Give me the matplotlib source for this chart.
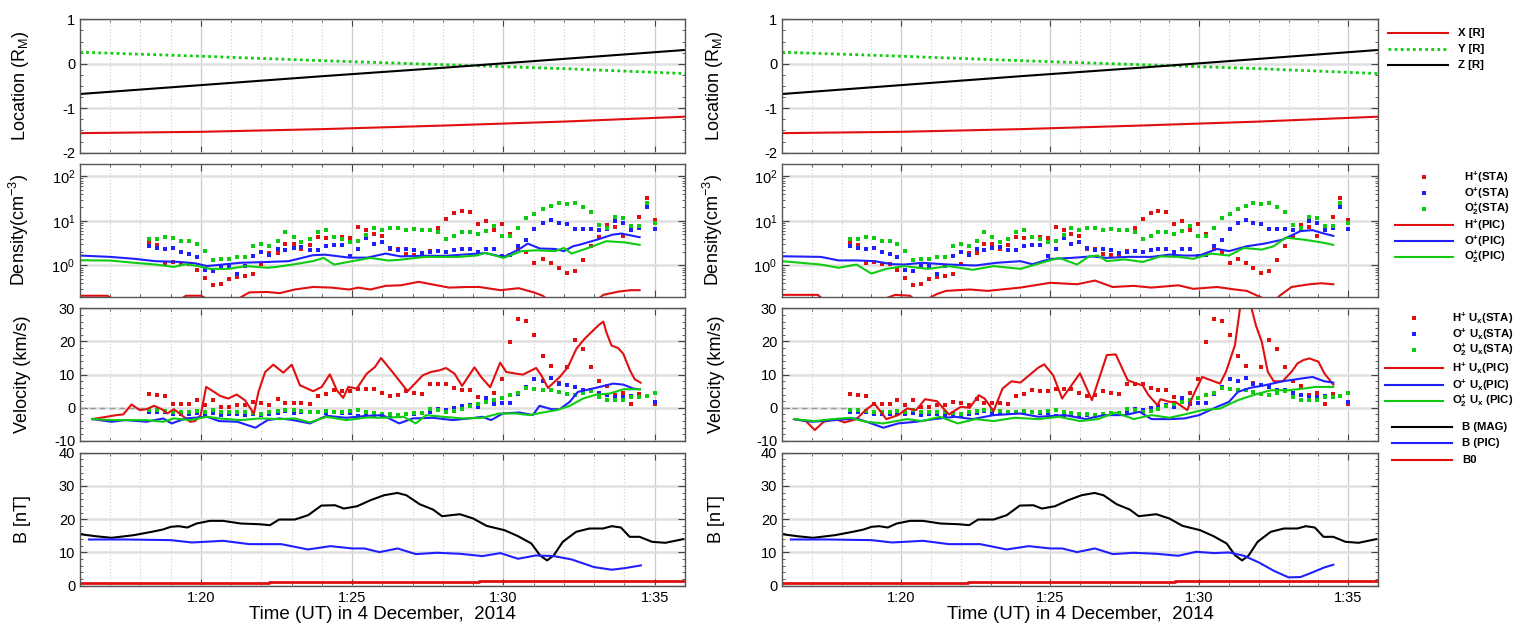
import numpy as np
import matplotlib
matplotlib.use("Agg")
import matplotlib.pyplot as plt
from matplotlib.ticker import MultipleLocator, FixedLocator, NullFormatter, LogLocator
from matplotlib.lines import Line2D

plt.rcParams['font.family'] = ['Liberation Sans', 'DejaVu Sans']
plt.rcParams['axes.unicode_minus'] = False
plt.rcParams['mathtext.fontset'] = 'custom'
plt.rcParams['mathtext.rm'] = 'Liberation Sans'
plt.rcParams['mathtext.it'] = 'Liberation Sans:italic'
plt.rcParams['mathtext.bf'] = 'Liberation Sans:bold'

RED = '#e01010'
BLUE = '#2020ff'
GREEN = '#10cc10'

# time in minutes after 01:00 UT
# ---- spacecraft location (same in both columns)
loc_t = [16.0, 20.0, 24.0, 28.0, 32.0, 36.0]
loc_x = [-1.56, -1.53, -1.47, -1.39, -1.30, -1.19]
loc_y = [0.26, 0.17, 0.07, -0.02, -0.11, -0.22]
loc_z = [-0.68, -0.48, -0.28, -0.09, 0.11, 0.31]

# ---- STATIC observations (same in both columns)
sta_t = [18.28, 18.55, 18.81, 19.08, 19.34, 19.61, 19.87, 20.14, 20.40, 20.67,
         20.94, 21.20, 21.47, 21.73, 22.00, 22.26, 22.53, 22.79, 23.06, 23.32,
         23.59, 23.86, 24.12, 24.39, 24.65, 24.92, 25.18, 25.45, 25.71, 25.98,
         26.25, 26.51, 26.78, 27.04, 27.31, 27.57, 27.84, 28.10, 28.37, 28.63,
         28.90, 29.17, 29.43, 29.70, 29.96, 30.23, 30.49, 30.76, 31.02, 31.29,
         31.56, 31.82, 32.09, 32.35, 32.62, 32.88, 33.15, 33.41, 33.68, 33.94,
         34.21, 34.48, 34.74, 35.01]
sta_nH = [3.2, 2.9, 1.15, 1.2, 1.1, 1.09, 0.81, 0.52, 0.37, 0.39,
          0.51, 0.54, 0.59, 0.66, 1.1, 1.9, 1.95, 3.0, 3.0, 2.35,
          2.9, 4.3, 4.1, 4.3, 4.3, 4.1, 7.4, 6.4, 5.1, 4.5,
          2.35, 2.35, 1.8, 1.75, 1.75, 2.15, 6.9, 10.9, 15.3, 17.0,
          16.1, 8.4, 9.7, 6.1, 8.6, 5.1, 2.35, 2.0, 1.15, 1.43,
          1.15, 0.89, 0.69, 0.75, 1.32, 2.7, 4.3, 8.0, 7.2, 4.5,
          7.5, 11.9, 32.0, 10.4]
sta_nO = [2.8, 2.5, 2.35, 2.5, 2.0, 1.85, 1.58, 0.79, 0.77, 0.97,
          0.97, 0.63, 0.97, 1.64, 2.0, 1.75, 2.35, 2.27, 2.5, 2.6,
          2.2, 2.2, 2.7, 2.9, 2.9, 1.6, 2.35, 4.2, 3.0, 3.3,
          2.5, 2.2, 2.4, 2.2, 1.9, 2.0, 2.1, 2.0, 2.2, 2.35,
          2.35, 2.0, 2.4, 2.35, 1.6, 1.75, 2.7, 3.7, 6.6, 8.9,
          10.5, 8.9, 8.6, 6.5, 6.5, 6.5, 6.3, 6.5, 9.7, 8.9,
          6.1, 6.9, 20.0, 6.5]
sta_nO2 = [3.9, 3.9, 4.3, 4.2, 3.5, 3.6, 3.1, 2.1, 1.32, 1.38,
           1.38, 1.53, 1.53, 2.7, 3.1, 2.7, 3.5, 5.5, 4.3, 3.4,
           3.9, 5.6, 6.1, 4.3, 3.9, 3.4, 3.5, 4.8, 6.8, 6.3,
           7.0, 7.0, 6.3, 6.6, 6.1, 6.1, 5.5, 3.9, 4.5, 5.5,
           5.5, 5.1, 6.0, 7.5, 4.5, 4.5, 6.8, 11.3, 14.3, 18.8,
           21.5, 24.7, 23.4, 25.5, 20.8, 15.6, 7.9, 6.9, 12.5, 11.3,
           7.7, 7.5, 25.5, 8.9]
sta_uH = [4.3, 3.8, 3.5, 1.2, 1.2, 1.2, 2.5, 1.0, 2.3, 0.3,
          0.1, 0.8, 0.8, 1.8, 1.6, 0.8, 2.6, 1.6, 1.6, 1.6,
          1.3, 3.5, 4.3, 5.3, 5.0, 5.0, 5.8, 5.8, 5.8, 4.5,
          3.5, 4.0, 5.0, 4.6, 4.3, 7.1, 7.1, 7.3, 6.0, 5.5,
          5.5, 3.2, 2.7, 4.6, 8.6, 19.8, 26.8, 26.3, 22.0, 15.6,
          12.6, 7.5, 12.3, 20.5, 17.8, 12.3, 8.0, 6.6, 4.0, 4.6,
          1.1, 4.1, 3.5, 1.1]
sta_uO = [-1.4, -1.4, -1.4, -2.0, -2.0, -2.0, -1.6, -1.8, -1.7, -2.2,
          -2.0, -1.8, -2.3, -2.0, -2.2, -2.0, -1.5, -1.0, -1.5, -1.2,
          -1.3, -1.3, -1.7, -1.4, -1.5, -1.6, -2.4, -2.3, -2.2, -2.5,
          -2.3, -2.2, -2.0, -1.8, -1.7, -1.2, -0.4, -0.8, -0.2, 0.5,
          0.8, 0.3, 3.0, 1.1, 1.5, 1.5, 4.3, 6.3, 8.6, 8.1,
          9.0, 7.3, 6.8, 6.3, 5.5, 5.3, 4.6, 3.8, 3.3, 3.2,
          3.6, 3.3, 3.5, 1.8]
sta_uO2 = [-0.8, -0.8, -1.0, -1.2, -1.4, -1.2, -1.0, -1.2, -0.8, -1.2,
           -1.4, -1.2, -1.4, -1.6, -1.8, -1.4, -1.0, -0.8, -0.8, -1.0,
           -1.2, -1.2, -1.0, -1.2, -1.2, -1.0, -0.8, -1.4, -1.7, -2.0,
           -2.0, -2.2, -2.0, -1.5, -1.7, -0.5, -0.7, -1.2, -1.0, -0.4,
           0.6, 1.3, 1.8, 2.3, 3.0, 3.8, 4.6, 6.0, 5.8, 5.3,
           5.3, 4.8, 4.3, 4.0, 4.6, 5.0, 3.3, 2.3, 2.3, 2.5,
           3.3, 3.3, 3.6, 4.6]

# ---- PIC model, left column
nH_l_t = [16.0, 16.9, 17.3, 18.5, 19.3, 19.5, 20.0, 20.4, 21.1, 21.6, 22.2, 22.6, 23.1,
          23.7, 24.3, 24.9, 25.2, 25.6, 26.1, 26.6, 27.2, 27.8, 28.2, 28.8, 29.2, 29.9,
          30.5, 31.0, 31.3, 31.6, 32.5, 33.0, 33.3, 33.8, 34.2, 34.5]
nH_l = [0.21, 0.21, 0.15, 0.13, 0.17, 0.21, 0.21, 0.15, 0.16, 0.25, 0.255, 0.24, 0.29,
        0.33, 0.32, 0.29, 0.32, 0.29, 0.35, 0.36, 0.43, 0.36, 0.32, 0.33, 0.33, 0.28,
        0.31, 0.25, 0.21, 0.14, 0.11, 0.15, 0.22, 0.26, 0.28, 0.28]
nO_l_t = [16.0, 17.0, 17.8, 18.5, 19.3, 19.8, 20.2, 20.7, 21.3, 22.2, 22.9, 23.7, 24.1,
          24.9, 25.5, 26.1, 26.6, 27.4, 28.1, 28.9, 29.4, 30.0, 30.5, 30.8, 31.2, 31.7,
          32.0, 32.3, 32.5, 33.1, 33.6, 33.9, 34.5]
nO_l = [1.67, 1.56, 1.41, 1.25, 1.2, 1.12, 0.97, 1.05, 1.15, 1.2, 1.25, 1.7, 1.75,
        1.5, 1.5, 1.85, 1.6, 1.65, 1.65, 1.8, 1.9, 1.55, 2.27, 3.1, 2.4, 2.35,
        2.1, 2.7, 2.9, 3.8, 4.9, 5.2, 4.3]
nO2_l_t = [16.0, 17.0, 17.8, 18.5, 19.1, 19.5, 19.9, 20.3, 20.9, 21.5, 22.2, 22.5, 23.1,
           23.7, 24.05, 24.4, 25.0, 25.6, 26.2, 26.6, 27.4, 27.9, 28.5, 29.1, 29.4, 30.0,
           30.6, 31.1, 31.7, 32.0, 32.25, 32.8, 33.4, 34.0, 34.5]
nO2_l = [1.31, 1.29, 1.15, 1.05, 0.93, 1.07, 0.97, 0.84, 0.84, 0.97, 0.89, 0.93, 1.07,
         1.25, 1.48, 1.05, 1.25, 1.48, 1.29, 1.35, 1.56, 1.56, 1.56, 1.67, 1.91, 1.48,
         2.1, 2.19, 2.1, 2.47, 1.85, 2.47, 3.5, 3.3, 2.9]

uH_l_t = [16.4, 16.88, 17.2, 17.43, 17.7, 17.98, 18.2, 18.45, 18.7, 18.89, 19.1, 19.3,
          19.64, 19.8, 19.99, 20.17, 20.4, 20.63, 20.9, 21.18, 21.45, 21.75, 21.9, 22.12,
          22.39, 22.72, 23.0, 23.27, 23.71, 23.99, 24.26, 24.49, 24.7, 24.87, 25.15, 25.48,
          25.75, 25.95, 26.33, 26.83, 27.33, 27.6, 27.88, 28.1, 28.38, 28.63, 29.04, 29.26,
          29.56, 29.89, 30.09, 30.42, 30.64, 31.08, 31.25, 31.47, 31.86, 32.13, 32.41,
          32.68, 32.96, 33.13, 33.3, 33.4, 33.57, 33.79, 33.96, 34.18, 34.34, 34.53]
uH_l = [-3.4, -2.7, -2.2, -2.0, 1.0, -0.7, -0.4, 0.6, -0.4, -1.7, -0.4, -1.8,
        -4.2, -4.0, -2.2, 6.3, 5.0, 3.6, 2.8, 4.0, 2.3, -1.7, 4.8, 10.8,
        13.0, 10.6, 13.0, 6.8, 5.0, 6.3, 10.1, 5.3, 3.0, 6.3, 5.8, 10.3,
        12.3, 15.0, 10.8, 5.0, 9.8, 10.8, 11.3, 12.0, 10.3, 6.6, 12.2, 9.3,
        6.2, 13.6, 10.8, 10.3, 10.0, 12.0, 9.8, 6.0, 9.3, 12.3, 17.8,
        20.8, 23.3, 24.8, 26.0, 22.8, 18.8, 18.0, 16.3, 11.3, 8.6, 7.6]
uO_l_t = [16.4, 17.05, 17.5, 18.2, 18.75, 19.03, 19.5, 20.2, 20.6, 21.2, 21.8, 22.2,
          22.6, 23.05, 23.6, 24.15, 24.8, 25.5, 26.0, 26.55, 27.0, 27.66, 28.32, 28.87,
          29.3, 29.59, 29.98, 30.53, 30.97, 31.19, 31.58, 31.86, 32.19, 32.46, 32.85,
          33.18, 33.62, 33.96, 34.29, 34.51]
uO_l = [-3.4, -4.2, -3.7, -4.2, -3.2, -4.7, -3.2, -2.7, -4.0, -4.2, -6.0, -3.7,
        -3.2, -3.7, -4.7, -2.4, -3.0, -2.4, -2.2, -4.7, -3.2, -3.0, -3.7, -3.2,
        -2.7, -3.7, -1.7, -1.4, -2.2, 0.6, -0.4, -0.4, 1.8, 4.8, 5.6,
        6.3, 7.3, 7.0, 5.8, 5.6]
uO2_l_t = [16.4, 17.1, 18.2, 18.75, 19.1, 19.64, 20.2, 20.6, 21.3, 21.95, 22.6, 23.1,
           23.6, 24.15, 24.8, 25.5, 26.0, 26.7, 27.1, 27.44, 28.0, 28.65, 29.3, 29.87,
           30.42, 30.86, 31.3, 31.75, 32.19, 32.63, 33.07, 33.51, 33.96, 34.51]
uO2_l = [-3.4, -3.7, -3.7, -4.2, -3.2, -3.7, -2.7, -3.2, -3.7, -3.2, -3.4, -3.2,
         -4.4, -2.7, -3.7, -2.9, -3.0, -2.7, -4.7, -2.2, -2.7, -3.2, -3.0, -1.7,
         -1.7, -2.2, -1.4, -0.7, 0.6, 2.8, 4.0, 4.3, 5.6, 5.6]

# ---- PIC model, right column
nH_r_t = [16.0, 17.2, 17.5, 19.0, 19.8, 20.3, 20.6, 21.2, 21.5, 22.3, 22.9, 24.0, 25.0,
          25.9, 26.5, 27.1, 27.8, 28.4, 29.3, 29.8, 30.6, 31.2, 31.6, 32.1, 32.4, 32.7,
          33.1, 33.7, 34.1, 34.5]
nH_r = [0.22, 0.22, 0.15, 0.14, 0.22, 0.21, 0.14, 0.23, 0.27, 0.29, 0.27, 0.32, 0.41,
        0.38, 0.46, 0.33, 0.35, 0.32, 0.36, 0.30, 0.33, 0.29, 0.27, 0.19, 0.13, 0.21,
        0.33, 0.38, 0.40, 0.38]
nO_r_t = [16.0, 17.3, 17.9, 18.5, 19.1, 19.7, 20.1, 20.7, 21.6, 22.5, 23.2, 24.0, 24.4,
          25.0, 25.7, 26.4, 26.9, 27.6, 28.4, 29.0, 29.5, 30.0, 30.6, 31.0, 31.6, 32.2,
          32.8, 33.4, 33.8, 34.1, 34.5]
nO_r = [1.61, 1.56, 1.3, 1.3, 1.25, 1.07, 1.05, 1.15, 1.05, 1.0, 1.15, 1.25, 1.07,
        1.4, 1.48, 1.6, 1.48, 1.56, 1.56, 1.75, 1.67, 1.67, 2.35, 2.1, 2.7, 3.1,
        3.8, 5.9, 6.2, 5.4, 4.6]
nO2_r_t = [16.0, 17.3, 17.9, 18.5, 19.0, 19.5, 20.1, 20.9, 21.6, 22.4, 23.1, 24.0, 24.9,
           25.3, 25.9, 26.3, 26.6, 26.9, 27.5, 28.1, 28.7, 29.3, 29.8, 30.4, 31.0, 31.5,
           32.1, 32.5, 32.9, 33.5, 34.1, 34.5]
nO2_r = [1.25, 1.05, 0.89, 1.05, 0.66, 0.84, 0.97, 0.84, 0.97, 0.80, 0.97, 0.84, 1.25,
         1.48, 1.05, 1.6, 1.67, 1.25, 1.37, 1.2, 1.6, 1.56, 1.41, 1.85, 1.67, 2.47,
         2.27, 2.7, 4.2, 3.8, 3.3, 2.9]

uH_r_t = [16.4, 16.8, 17.1, 17.4, 17.8, 18.1, 18.5, 18.8, 19.1, 19.5, 19.9, 20.2, 20.5,
          20.8, 21.2, 21.6, 22.0, 22.3, 22.6, 22.8, 23.1, 23.4, 23.7, 24.0, 24.6, 24.8,
          25.1, 25.4, 26.0, 26.4, 26.9, 27.2, 27.6, 27.9, 28.1, 28.3, 28.6, 28.7, 29.0,
          29.2, 29.6, 29.8, 30.1, 30.4, 30.7, 30.9, 31.2, 31.4, 31.7, 31.9, 32.1, 32.3,
          32.5, 32.8, 33.1, 33.3, 33.5, 33.7, 34.0, 34.2, 34.5]
uH_r = [-3.4, -4.0, -6.7, -4.2, -3.4, -4.4, -3.4, -0.7, 1.3, -3.4, -2.2, -0.2, -0.7,
        2.6, 2.0, -2.0, 0.3, 0.0, 3.8, 2.8, -1.0, 5.8, 8.0, 7.6, 12.1, 13.1,
        9.8, 2.8, 10.4, 2.3, 15.9, 16.1, 8.3, 7.3, 6.8, 3.8, 0.8, 2.6, 1.8,
        1.8, -0.7, 3.8, 9.3, 8.3, 7.3, 10.9, 18.9, 32.0, 32.0, 24.9, 19.9, 10.9,
        8.0, 8.0, 10.9, 13.4, 14.4, 14.9, 13.9, 10.4, 7.0]
uO_r_t = [16.4, 17.0, 17.8, 18.5, 19.0, 19.4, 19.9, 20.5, 21.1, 21.8, 22.4, 23.1, 24.0,
          24.6, 25.5, 26.2, 26.8, 27.5, 28.0, 28.4, 29.0, 29.5, 30.0, 30.6, 31.0, 31.3,
          31.7, 32.2, 32.8, 33.4, 33.8, 34.2, 34.5]
uO_r = [-3.4, -4.2, -3.7, -3.2, -4.7, -6.0, -4.7, -4.2, -3.4, -2.7, -3.4, -2.2, -1.7,
        -2.7, -2.2, -3.4, -2.2, -2.2, -1.2, -3.4, -3.4, -3.2, -2.2, 0.3, 1.8, 4.8,
        6.0, 6.8, 8.0, 8.8, 9.3, 8.0, 7.6]
uO2_r_t = [16.4, 17.1, 17.7, 18.3, 18.8, 19.4, 20.2, 20.7, 21.3, 21.9, 22.5, 23.1, 23.8,
           24.6, 25.3, 26.0, 26.6, 27.2, 27.8, 28.4, 29.0, 29.5, 30.1, 30.7, 31.3, 31.8,
           32.4, 33.0, 33.5, 33.9, 34.5]
uO2_r = [-3.4, -4.0, -3.4, -3.0, -4.2, -4.7, -3.4, -4.0, -2.7, -4.7, -3.4, -4.0, -3.0,
         -3.4, -2.7, -4.0, -3.4, -1.4, -3.4, -2.2, -3.0, -2.0, -0.7, -0.2, 2.3, 3.8,
         5.3, 5.3, 5.8, 6.3, 6.3]

# ---- magnetic field
bmag_t = [16.0, 16.5, 17.04, 17.78, 18.37, 18.74, 19.0, 19.26, 19.55, 19.85, 20.29, 20.73,
          21.32, 21.91, 22.28, 22.58, 23.1, 23.54, 23.98, 24.43, 24.72, 25.16, 25.6, 26.05,
          26.49, 26.79, 27.23, 27.67, 27.97, 28.56, 29.0, 29.44, 30.03, 30.48, 30.92, 31.21,
          31.44, 31.66, 31.96, 32.4, 32.84, 33.29, 33.58, 33.88, 34.17, 34.5, 34.91, 35.35,
          35.94]
bmag = [15.5, 14.9, 14.4, 15.2, 16.2, 16.9, 17.7, 17.9, 17.5, 18.7, 19.5, 19.5,
        18.7, 18.5, 18.2, 19.9, 19.9, 21.2, 24.1, 24.2, 23.2, 23.9, 25.7, 27.2,
        27.9, 27.2, 24.5, 22.9, 20.9, 21.5, 20.2, 18.0, 16.7, 14.9, 12.7, 9.1,
        7.6, 9.1, 13.2, 16.2, 17.2, 17.2, 17.9, 17.5, 14.7, 14.7, 13.2, 12.9,
        14.0]
bpic_l_t = [16.3, 17.5, 19.0, 19.7, 20.73, 21.6, 22.65, 23.54, 24.28, 25.0, 25.4, 25.9,
            26.5, 27.1, 27.8, 28.56, 29.3, 29.9, 30.48, 31.07, 31.66, 32.25, 32.99, 33.58,
            34.02, 34.54]
bpic_l = [13.9, 13.9, 13.7, 13.0, 13.5, 12.5, 12.5, 10.9, 11.9, 11.2, 11.2, 10.1,
          11.2, 9.5, 9.9, 9.6, 8.9, 9.8, 8.1, 9.1, 8.9, 7.9, 5.6, 4.8,
          5.3, 6.1]
bpic_r_t = [16.3, 17.5, 19.0, 19.7, 20.73, 21.6, 22.65, 23.54, 24.28, 25.0, 25.4, 25.9,
            26.5, 27.1, 27.8, 28.56, 29.3, 29.9, 30.5, 31.0, 31.5, 32.0, 32.5, 33.0,
            33.4, 33.8, 34.2, 34.5]
bpic_r = [13.9, 13.9, 13.7, 13.0, 13.5, 12.5, 12.5, 10.9, 11.9, 11.2, 11.2, 10.1,
          11.2, 9.5, 9.9, 9.6, 9.0, 10.2, 9.8, 10.0, 9.0, 7.0, 4.5, 2.5,
          2.6, 4.0, 5.5, 6.3]
b0_t = [16.0, 22.25, 29.2, 32.7, 36.0]
b0 = [0.8, 1.1, 1.3, 1.5, 1.5]

columns = [
    dict(left=80, width=605, nH=(nH_l_t, nH_l), nO=(nO_l_t, nO_l), nO2=(nO2_l_t, nO2_l),
         uH=(uH_l_t, uH_l), uO=(uO_l_t, uO_l), uO2=(uO2_l_t, uO2_l), bpic=(bpic_l_t, bpic_l)),
    dict(left=782, width=596, nH=(nH_r_t, nH_r), nO=(nO_r_t, nO_r), nO2=(nO2_r_t, nO2_r),
         uH=(uH_r_t, uH_r), uO=(uO_r_t, uO_r), uO2=(uO2_r_t, uO2_r), bpic=(bpic_r_t, bpic_r)),
]
rows = [(19.3, 152.7), (164.3, 296.7), (308.3, 441.0), (452.7, 585.7)]

W, H = 1527, 630
fig = plt.figure(figsize=(W / 100, H / 100), dpi=100)

ylabels = ['Location (R$_{\\rm M}$)', 'Density(cm$^{-3}$)', 'Velocity (km/s)', 'B [nT]']
lw = 1.5
ms = 2.6

all_axes = []
for ci, col in enumerate(columns):
    axs = []
    for ri, (top, bot) in enumerate(rows):
        ax = fig.add_axes([col['left'] / W, 1 - bot / H, col['width'] / W, (bot - top) / H])
        axs.append(ax)
    all_axes.append(axs)

    a1, a2, a3, a4 = axs
    a1.plot(loc_t, loc_x, color=RED, lw=lw)
    a1.plot(loc_t, loc_y, color=GREEN, lw=2, ls=(0, (1, 1.2)))
    a1.plot(loc_t, loc_z, color='black', lw=lw)
    a1.set_ylim(-2, 1)
    a1.yaxis.set_major_locator(MultipleLocator(1))
    a1.yaxis.set_minor_locator(MultipleLocator(0.25))

    a2.set_yscale('log')
    a2.plot(sta_t, sta_nH, 's', color=RED, ms=ms, mew=0)
    a2.plot(sta_t, sta_nO, 's', color=BLUE, ms=ms, mew=0)
    a2.plot(sta_t, sta_nO2, 's', color=GREEN, ms=ms, mew=0)
    a2.plot(*col['nH'], color=RED, lw=lw)
    a2.plot(*col['nO'], color=BLUE, lw=lw)
    a2.plot(*col['nO2'], color=GREEN, lw=lw)
    a2.set_ylim(0.2, 185)
    a2.yaxis.set_major_locator(LogLocator(base=10, numticks=10))
    a2.yaxis.set_minor_locator(LogLocator(base=10, subs=np.arange(2, 10), numticks=10))
    a2.yaxis.set_minor_formatter(NullFormatter())

    a3.axhline(0, xmax=0.11, color='#999999', lw=1, ls=(0, (4, 3)), zorder=1.5)
    a3.plot(sta_t, sta_uH, 's', color=RED, ms=ms, mew=0)
    a3.plot(sta_t, sta_uO, 's', color=BLUE, ms=ms, mew=0)
    a3.plot(sta_t, sta_uO2, 's', color=GREEN, ms=ms, mew=0)
    a3.plot(*col['uH'], color=RED, lw=lw)
    a3.plot(*col['uO'], color=BLUE, lw=lw)
    a3.plot(*col['uO2'], color=GREEN, lw=lw)
    a3.set_ylim(-10, 30)
    a3.yaxis.set_major_locator(MultipleLocator(10))
    a3.yaxis.set_minor_locator(MultipleLocator(2))

    a4.plot(bmag_t, bmag, color='black', lw=lw)
    a4.plot(*col['bpic'], color=BLUE, lw=lw)
    a4.plot(b0_t, b0, color=RED, lw=2, drawstyle='steps-post')
    a4.set_ylim(0, 40)
    a4.yaxis.set_major_locator(MultipleLocator(10))
    a4.yaxis.set_minor_locator(MultipleLocator(2))

    for ri, ax in enumerate(axs):
        ax.set_xlim(16, 36)
        ax.xaxis.set_major_locator(FixedLocator([20, 25, 30, 35]))
        ax.xaxis.set_minor_locator(MultipleLocator(1))
        ax.grid(True, which='major', axis='x', color='#cccccc', lw=0.9, zorder=0)
        ax.grid(True, which='minor', axis='x', color='#cccccc', lw=0.8, ls=(0, (1, 2)), zorder=0)
        ax.grid(True, which='major', axis='y', color='#e0e0e0', lw=1.8, zorder=0)
        ax.set_axisbelow(True)
        ax.tick_params(which='both', direction='in', top=True, right=True,
                       colors='#444444', labelcolor='black', labelsize=10.5)
        ax.tick_params(which='major', length=5, width=0.8)
        ax.tick_params(which='minor', length=2.5, width=0.6)
        for s in ax.spines.values():
            s.set_color('#555555')
            s.set_linewidth(1.0)
        ax.set_ylabel(ylabels[ri], fontsize=13)
        ax.yaxis.set_label_coords(-0.081 if ci == 0 else -0.096, 0.5)
        if ri < 3:
            ax.set_xticklabels([])
        else:
            ax.set_xticklabels(['1:20', '1:25', '1:30', '1:35'])
            ax.set_xlabel('Time (UT) in 4 December,  2014', fontsize=13.5, labelpad=1)

# legends to the right of the right column, drawn entry by entry
# (kind, colour, label, dotted)
legend_rows = [
    dict(x0=1388, x1=1448, tx=1458, ys=[33, 49, 65], entries=[
        ('line', RED, 'X [R]', False), ('line', GREEN, 'Y [R]', True),
        ('line', 'black', 'Z [R]', False)]),
    dict(x0=1395, x1=1453, tx=1464, ys=[177, 193, 209, 225, 241, 257], entries=[
        ('dot', RED, '$\\mathbf{H^{+}}$(STA)', False),
        ('dot', BLUE, '$\\mathbf{O^{+}}$(STA)', False),
        ('dot', GREEN, '$\\mathbf{O_2^{+}}$(STA)', False),
        ('line', RED, '$\\mathbf{H^{+}}$(PIC)', False),
        ('line', BLUE, '$\\mathbf{O^{+}}$(PIC)', False),
        ('line', GREEN, '$\\mathbf{O_2^{+}}$(PIC)', False)]),
    dict(x0=1385, x1=1443, tx=1452, ys=[318, 334, 350, 368, 385, 401], entries=[
        ('dot', RED, '$\\mathbf{H^{+}\\ U_x}$(STA)', False),
        ('dot', BLUE, '$\\mathbf{O^{+}\\ U_x}$(STA)', False),
        ('dot', GREEN, '$\\mathbf{O_2^{+}\\ U_x}$(STA)', False),
        ('line', RED, '$\\mathbf{H^{+}\\ U_x}$(PIC)', False),
        ('line', BLUE, '$\\mathbf{O^{+}\\ U_x}$(PIC)', False),
        ('line', GREEN, '$\\mathbf{O_2^{+}\\ U_x}$ (PIC)', False)]),
    dict(x0=1392, x1=1452, tx=1462, ys=[427, 443, 460], entries=[
        ('line', 'black', 'B (MAG)', False), ('line', BLUE, 'B (PIC)', False),
        ('line', RED, 'B0', False)]),
]
for lr in legend_rows:
    for y, (kind, c, label, dotted) in zip(lr['ys'], lr['entries']):
        yf = 1 - y / H
        if kind == 'line':
            fig.add_artist(Line2D([lr['x0'] / W, lr['x1'] / W], [yf, yf], color=c,
                                  lw=2 if dotted else lw,
                                  ls=(0, (1, 1.2)) if dotted else '-',
                                  transform=fig.transFigure))
        else:
            xc = (lr['x0'] + lr['x1']) / 2 / W
            fig.add_artist(Line2D([xc], [yf], marker='s', ms=ms, mew=0, color=c,
                                  ls='none', transform=fig.transFigure))
        fig.text(lr['tx'] / W, yf, label, ha='left', va='center',
                 fontsize=8.2, fontweight='bold')

fig.savefig('out.png', dpi=100)
